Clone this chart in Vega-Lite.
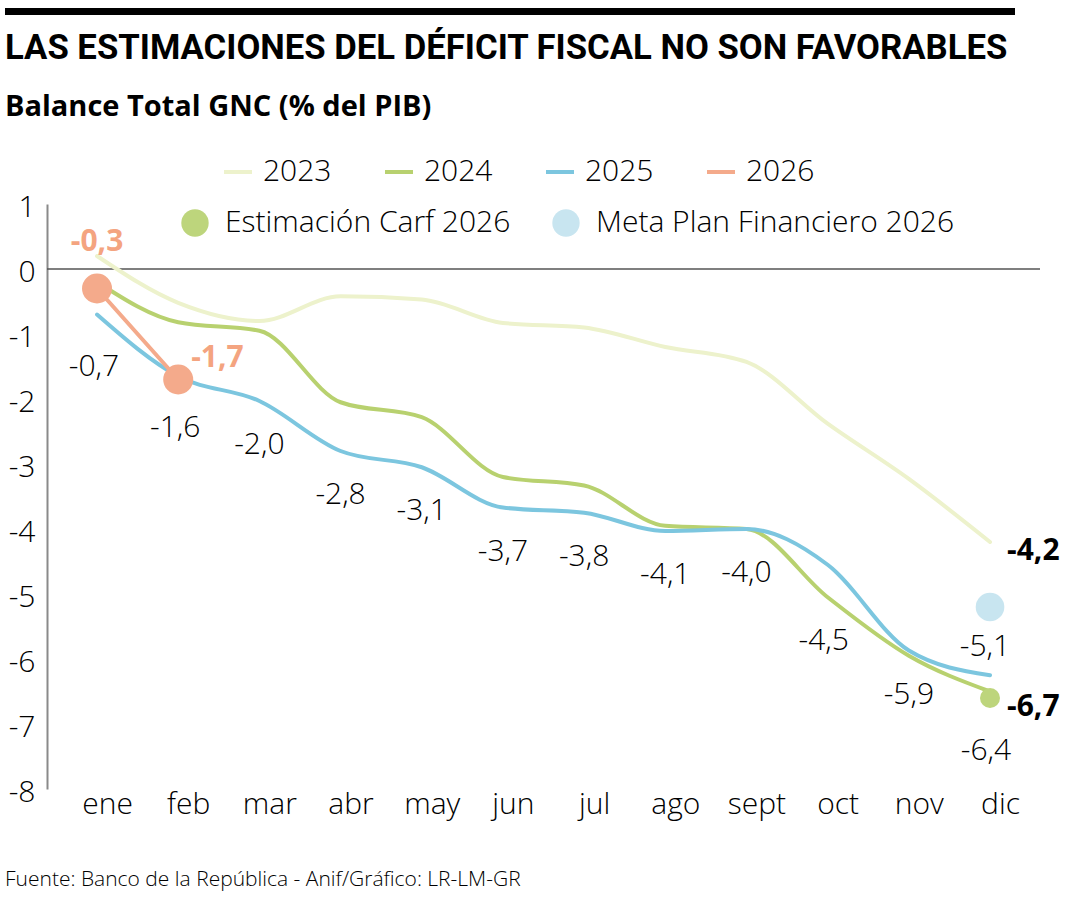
{
  "$schema": "https://vega.github.io/schema/vega-lite/v6.json",
  "padding": {"left": 5, "top": 5, "right": 5, "bottom": 5},
  "background": "white",
  "config": {
    "font": "Open Sans",
    "view": {"stroke": null},
    "concat": {"spacing": 14},
    "axis": {"labelFont": "Open Sans", "labelFontWeight": 300, "labelColor": "#000"},
    "legend": {"labelFont": "Open Sans", "labelFontWeight": 300, "labelColor": "#000"}
  },
  "title": {
    "text": "Fuente: Banco de la República - Anif/Gráfico: LR-LM-GR",
    "orient": "bottom", "anchor": "start", "fontSize": 21, "fontWeight": 300,
    "font": "Open Sans", "color": "#000", "offset": 50
  },
  "resolve": {"legend": {"stroke": "independent", "fill": "independent"}},
  "datasets": {
    "d": [
      {"m": "ene", "s": "2023", "v": 0.2, "l": ""},
      {"m": "feb", "s": "2023", "v": -0.52, "l": ""},
      {"m": "mar", "s": "2023", "v": -0.8, "l": ""},
      {"m": "abr", "s": "2023", "v": -0.42, "l": ""},
      {"m": "may", "s": "2023", "v": -0.47, "l": ""},
      {"m": "jun", "s": "2023", "v": -0.83, "l": ""},
      {"m": "jul", "s": "2023", "v": -0.9, "l": ""},
      {"m": "ago", "s": "2023", "v": -1.2, "l": ""},
      {"m": "sept", "s": "2023", "v": -1.43, "l": ""},
      {"m": "oct", "s": "2023", "v": -2.38, "l": ""},
      {"m": "nov", "s": "2023", "v": -3.23, "l": ""},
      {"m": "dic", "s": "2023", "v": -4.2, "l": "-4,2"},
      {"m": "ene", "s": "2024", "v": -0.2, "l": ""},
      {"m": "feb", "s": "2024", "v": -0.82, "l": ""},
      {"m": "mar", "s": "2024", "v": -0.95, "l": ""},
      {"m": "abr", "s": "2024", "v": -2.05, "l": ""},
      {"m": "may", "s": "2024", "v": -2.28, "l": ""},
      {"m": "jun", "s": "2024", "v": -3.2, "l": ""},
      {"m": "jul", "s": "2024", "v": -3.33, "l": ""},
      {"m": "ago", "s": "2024", "v": -3.95, "l": ""},
      {"m": "sept", "s": "2024", "v": -4.0, "l": ""},
      {"m": "oct", "s": "2024", "v": -5.05, "l": ""},
      {"m": "nov", "s": "2024", "v": -5.95, "l": ""},
      {"m": "dic", "s": "2024", "v": -6.5, "l": ""},
      {"m": "ene", "s": "2025", "v": -0.7, "l": "-0,7"},
      {"m": "feb", "s": "2025", "v": -1.65, "l": "-1,6"},
      {"m": "mar", "s": "2025", "v": -2.03, "l": "-2,0"},
      {"m": "abr", "s": "2025", "v": -2.8, "l": "-2,8"},
      {"m": "may", "s": "2025", "v": -3.05, "l": "-3,1"},
      {"m": "jun", "s": "2025", "v": -3.67, "l": "-3,7"},
      {"m": "jul", "s": "2025", "v": -3.75, "l": "-3,8"},
      {"m": "ago", "s": "2025", "v": -4.03, "l": "-4,1"},
      {"m": "sept", "s": "2025", "v": -4.0, "l": "-4,0"},
      {"m": "oct", "s": "2025", "v": -4.55, "l": "-4,5"},
      {"m": "nov", "s": "2025", "v": -5.87, "l": "-5,9"},
      {"m": "dic", "s": "2025", "v": -6.25, "l": "-6,4"},
      {"m": "ene", "s": "2026", "v": -0.3, "l": "-0,3"},
      {"m": "feb", "s": "2026", "v": -1.7, "l": "-1,7"},
      {"m": "dic", "s": "Estimación Carf 2026", "v": -6.6, "l": "-6,7"},
      {"m": "dic", "s": "Meta Plan Financiero 2026", "v": -5.2, "l": "-5,1"}
    ]
  },
  "vconcat": [
    {
      "width": 1010,
      "height": 7,
      "view": {"fill": "#000000", "stroke": null},
      "data": {"values": [{"a": 1}]},
      "mark": {"type": "text", "text": ""},
      "encoding": {}
    },
    {
      "width": 1035,
      "height": 585,
      "title": {
        "text": "LAS ESTIMACIONES DEL DÉFICIT FISCAL NO SON FAVORABLES",
        "subtitle": "Balance Total GNC (% del PIB)",
        "anchor": "start",
        "font": "Roboto",
        "fontSize": 34.7,
        "fontWeight": "bold",
        "color": "#000",
        "subtitleFont": "Open Sans",
        "subtitleFontSize": 29,
        "subtitleFontWeight": "bold",
        "subtitleColor": "#000",
        "subtitlePadding": 26,
        "offset": 33
      },
      "data": {"name": "d"},
      "resolve": {"scale": {"x": "independent"}, "axis": {"x": "independent"}},
      "layer": [
        {
          "data": {"values": [{"z": 0}]},
          "mark": {"type": "rule", "color": "#555555", "strokeWidth": 1.5},
          "encoding": {
            "x": {"datum": 0.0406, "type": "quantitative", "scale": {"domain": [0, 1], "nice": false, "zero": false}, "axis": null},
            "x2": {"datum": 1},
            "y": {"field": "z", "type": "quantitative", "scale": {"domain": [-8, 1], "nice": false, "zero": false},
              "axis": {"title": null, "values": [-8, -7, -6, -5, -4, -3, -2, -1, 0, 1], "labelExpr": "'' + datum.value", "ticks": false, "grid": false, "domainColor": "#8a8a8a", "domainWidth": 2, "labelFontSize": 30, "labelPadding": 12, "labelOffset": 3, "labelFlush": false, "offset": -42}}
          }
        },
        {
          "encoding": {
            "x": {
              "field": "m", "type": "ordinal",
              "scale": {"type": "point", "domain": ["ene", "feb", "mar", "abr", "may", "jun", "jul", "ago", "sept", "oct", "nov", "dic"], "padding": 0.8746, "align": 0.648},
              "axis": {"title": null, "domain": false, "ticks": false, "labelFontSize": 30, "labelPadding": 0, "labelOffset": 10, "labelAngle": 0}
            },
            "y": {"field": "v", "type": "quantitative"}
          },
          "layer": [
            {
              "transform": [{"filter": "indexof(['2023','2024','2025','2026'], datum.s) >= 0"}],
              "mark": {"type": "line", "interpolate": "monotone", "strokeWidth": 4, "strokeCap": "round"},
              "encoding": {
                "stroke": {
                  "field": "s", "type": "nominal",
                  "scale": {"domain": ["2023", "2024", "2025", "2026"], "range": ["#edf2cc", "#b8d16f", "#7cc6df", "#f4aa8b"]},
                  "legend": {"orient": "none", "legendX": 217, "legendY": -48, "direction": "horizontal", "title": null, "symbolType": "stroke", "symbolSize": 784, "symbolStrokeWidth": 4, "labelFontSize": 30, "labelOffset": 9, "columnPadding": 45, "labelLimit": 500}
                }
              }
            },
            {
              "transform": [{"filter": "datum.s == '2026'"}],
              "mark": {"type": "circle", "size": 900, "opacity": 1, "color": "#f4aa8b"}
            },
            {
              "transform": [{"filter": "datum.s == 'Estimación Carf 2026'"}],
              "mark": {"type": "circle", "size": 400, "opacity": 1},
              "encoding": {
                "fill": {
                  "field": "s", "type": "nominal",
                  "scale": {"domain": ["Estimación Carf 2026", "Meta Plan Financiero 2026"], "range": ["#bdd57c", "#c8e5f0"]},
                  "legend": {"orient": "none", "legendX": 175, "legendY": 4, "direction": "horizontal", "title": null, "symbolType": "circle", "symbolSize": 750, "symbolOpacity": 1, "symbolStrokeWidth": 0, "labelFontSize": 30, "labelOffset": 15, "columnPadding": 40, "labelLimit": 500}
                }
              }
            },
            {
              "transform": [{"filter": "datum.s == 'Meta Plan Financiero 2026'"}],
              "mark": {"type": "circle", "size": 820, "opacity": 1},
              "encoding": {
                "fill": {
                  "field": "s", "type": "nominal",
                  "scale": {"domain": ["Estimación Carf 2026", "Meta Plan Financiero 2026"], "range": ["#bdd57c", "#c8e5f0"]},
                  "legend": {"orient": "none", "legendX": 175, "legendY": 4, "direction": "horizontal", "title": null, "symbolType": "circle", "symbolSize": 750, "symbolOpacity": 1, "symbolStrokeWidth": 0, "labelFontSize": 30, "labelOffset": 15, "columnPadding": 40, "labelLimit": 500}
                }
              }
            },
            {
              "transform": [{"filter": "datum.s == '2025' && indexof(['mar','abr','may','jun','jul','ago','sept','nov'], datum.m) >= 0"}],
              "mark": {"type": "text", "fontSize": 30, "fontWeight": 300, "color": "#000", "dy": 44, "baseline": "middle"},
              "encoding": {"text": {"field": "l"}}
            },
            {
              "transform": [{"filter": "datum.s == '2025' && indexof(['ene','feb'], datum.m) >= 0"}],
              "mark": {"type": "text", "fontSize": 30, "fontWeight": 300, "color": "#000", "dy": 52, "dx": -3, "baseline": "middle"},
              "encoding": {"text": {"field": "l"}}
            },
            {
              "transform": [{"filter": "datum.s == '2025' && indexof(['oct','dic'], datum.m) >= 0"}],
              "mark": {"type": "text", "fontSize": 30, "fontWeight": 300, "color": "#000", "dy": 76, "dx": -4, "baseline": "middle"},
              "encoding": {"text": {"field": "l"}}
            },
            {
              "transform": [{"filter": "datum.s == '2026' && datum.m == 'ene'"}],
              "mark": {"type": "text", "fontSize": 30, "fontWeight": "bold", "color": "#f4a480", "dy": -47, "baseline": "middle"},
              "encoding": {"text": {"field": "l"}}
            },
            {
              "transform": [{"filter": "datum.s == '2026' && datum.m == 'feb'"}],
              "mark": {"type": "text", "fontSize": 30, "fontWeight": "bold", "color": "#f4a480", "dy": -22, "dx": 13, "align": "left", "baseline": "middle"},
              "encoding": {"text": {"field": "l"}}
            },
            {
              "transform": [{"filter": "(datum.s == '2023' && datum.m == 'dic') || datum.s == 'Estimación Carf 2026'"}],
              "mark": {"type": "text", "fontSize": 30, "fontWeight": "bold", "color": "#000", "dy": 9, "dx": 17, "align": "left", "baseline": "middle"},
              "encoding": {"text": {"field": "l"}}
            },
            {
              "transform": [{"filter": "datum.s == 'Meta Plan Financiero 2026'"}],
              "mark": {"type": "text", "fontSize": 30, "fontWeight": 300, "color": "#000", "dy": 40, "dx": -5, "baseline": "middle"},
              "encoding": {"text": {"field": "l"}}
            }
          ]
        }
      ]
    }
  ]
}
